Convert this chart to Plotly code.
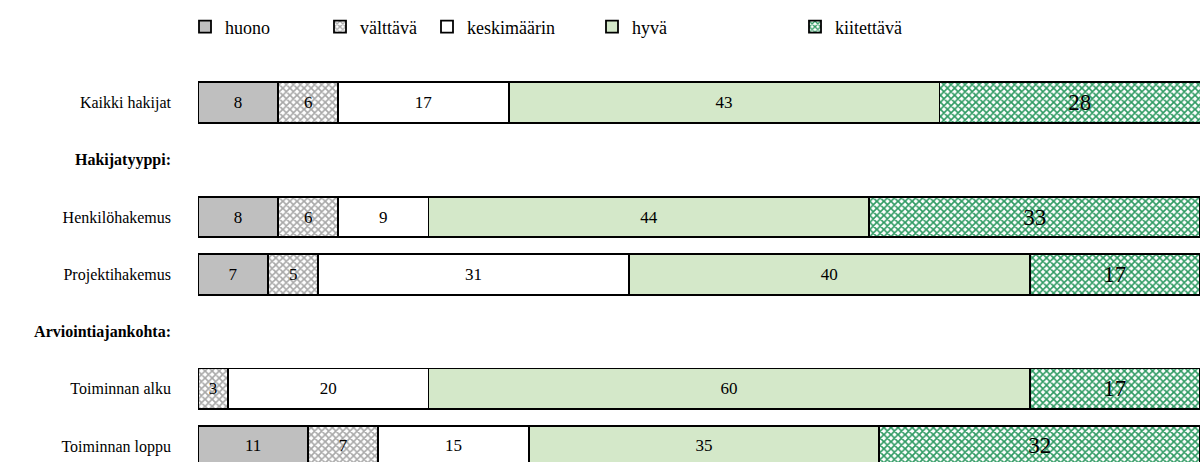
import plotly.graph_objects as go

FONT = "Liberation Serif"

# rows top to bottom, header rows carry no bars
rows = [
    "Kaikki hakijat",
    "<b>Hakijatyyppi:</b>",
    "Henkilöhakemus",
    "Projektihakemus",
    "<b>Arviointiajankohta:</b>",
    "Toiminnan alku",
    "Toiminnan loppu",
]

huono = [8, None, 8, 7, None, 0, 11]
valttava = [6, None, 6, 5, None, 3, 7]
keskimaarin = [17, None, 9, 31, None, 20, 15]
hyva = [43, None, 44, 40, None, 60, 35]
kiitettava = [28, None, 33, 17, None, 17, 32]

series = [
    ("huono", huono, "#bfbfbf", None, 17),
    ("välttävä", valttava, "#a8a8a8", "white", 17),
    ("keskimäärin", keskimaarin, "white", None, 17),
    ("hyvä", hyva, "#d4e8c9", None, 17),
    ("kiitettävä", kiitettava, "#2e9a62", "white", 23),
]

# left edge of each legend symbol, in pixels
legend_px = [198, 333, 440, 605, 808]

fig = go.Figure()

for i, (name, vals, color, patbg, tsize) in enumerate(series):
    pattern = None
    if patbg:
        pattern = dict(shape="x", size=5, solidity=0.55, bgcolor=patbg,
                       fgcolor=color, fillmode="replace")
    fig.add_trace(go.Bar(
        y=rows,
        x=vals,
        orientation="h",
        name=name,
        text=["" if not v else str(v) for v in vals],
        textposition="inside",
        insidetextanchor="middle",
        textangle=0,
        textfont=dict(family=FONT, size=tsize, color="black"),
        marker=dict(color=color, line=dict(color="black", width=1.8),
                    pattern=pattern),
        legend="legend" if i == 0 else f"legend{i + 1}",
        showlegend=True,
        hoverinfo="skip",
    ))

legends = {}
for i, px in enumerate(legend_px):
    key = "legend" if i == 0 else f"legend{i + 1}"
    legends[key] = dict(
        x=(px - 198 - 13) / 1002,
        y=(462 - 27) / 388,
        xanchor="left",
        yanchor="middle",
        orientation="h",
        bgcolor="rgba(0,0,0,0)",
        font=dict(family=FONT, size=18, color="black"),
    )

fig.update_layout(
    width=1200,
    height=462,
    margin=dict(l=198, r=0, t=74, b=0, autoexpand=False),
    barmode="stack",
    bargap=0.29,
    showlegend=True,
    plot_bgcolor="white",
    paper_bgcolor="white",
    font=dict(family=FONT, size=16, color="black"),
    **legends,
)

fig.update_xaxes(range=[0, 100], visible=False, fixedrange=True)
fig.update_yaxes(
    categoryorder="array",
    categoryarray=rows,
    range=[6.28, -0.5],
    showgrid=False,
    showline=False,
    zeroline=False,
    ticks="",
    ticklabelstandoff=26,
    tickfont=dict(family=FONT, size=16, color="black"),
)

# drop the page's default body margin so the figure sits at the window corner
fig.write_html(
    "out.html",
    config={"displayModeBar": False},
    post_script="document.body.style.margin='0';document.body.style.overflow='hidden';",
)
